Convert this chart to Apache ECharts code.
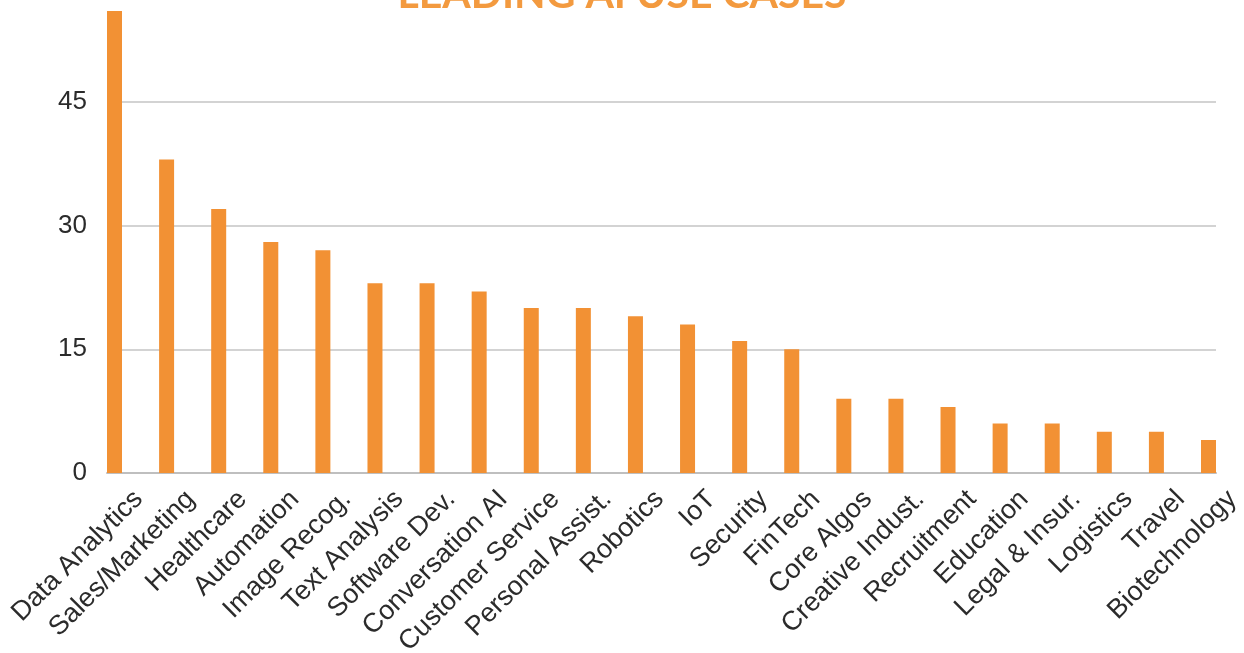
<!DOCTYPE html>
<html>
<head>
<meta charset="utf-8">
<script src="https://cdn.jsdelivr.net/npm/echarts@6/dist/echarts.min.js"></script>
<style>
  html, body { margin: 0; padding: 0; background: #fff; }
  #chart { width: 1244px; height: 653px; }
</style>
</head>
<body>
<div id="chart"></div>
<script>
const categories = ['Data Analytics', 'Sales/Marketing', 'Healthcare', 'Automation', 'Image Recog.',
    'Text Analysis', 'Software Dev.', 'Conversation AI', 'Customer Service', 'Personal Assist.',
    'Robotics', 'IoT', 'Security', 'FinTech', 'Core Algos', 'Creative Indust.', 'Recruitment',
    'Education', 'Legal & Insur.', 'Logistics', 'Travel', 'Biotechnology'];
const useCases = [56, 38, 32, 28, 27, 23, 23, 22, 20, 20, 19, 18, 16, 15, 9, 9, 8, 6, 6, 5, 5, 4];
const yTicks = { min: 0, max: 60, interval: 15 };

const chart = echarts.init(document.querySelector('#chart'), null, {renderer: 'canvas'});
const font = 'Liberation Sans, Arial, sans-serif';

const option = {
    animation: false,
    title: {
        text: 'LEADING AI USE CASES',
        left: 'center',
        top: -31,
        textStyle: { color: '#F39A3F', fontSize: 41, fontWeight: 'bold', fontFamily: 'Lato, sans-serif' }
    },
    grid: [
        // axis frame: y labels, gridlines, x axis line
        { left: 107, right: 28, top: -22, bottom: 180, outerBoundsMode: 'none' },
        // bars
        { left: 114.5, right: 35.5, top: -22, bottom: 180, outerBoundsMode: 'none' },
        // x labels
        { left: 138.5, right: 11.5, top: -22, bottom: 180, outerBoundsMode: 'none' }
    ],
    xAxis: [
        { gridIndex: 0, type: 'category', data: categories, boundaryGap: false,
          axisLine: { lineStyle: { color: '#bfbfbf', width: 2 } },
          axisTick: { show: false }, axisLabel: { show: false } },
        { gridIndex: 1, type: 'category', data: categories, boundaryGap: false, show: false },
        { gridIndex: 2, type: 'category', data: categories, boundaryGap: false,
          axisLine: { show: false }, axisTick: { show: false },
          axisLabel: { interval: 0, rotate: 45, margin: 22, color: '#2b2b2b', fontSize: 27, fontFamily: font } }
    ],
    yAxis: [
        { gridIndex: 0, type: 'value', min: yTicks.min, max: yTicks.max, interval: yTicks.interval,
          axisLine: { show: false }, axisTick: { show: false },
          axisLabel: { margin: 20, color: '#2b2b2b', fontSize: 26, fontFamily: font },
          splitLine: { lineStyle: { color: '#c4c4c4', width: 1.5 } } },
        { gridIndex: 1, type: 'value', min: yTicks.min, max: yTicks.max, interval: yTicks.interval, show: false },
        { gridIndex: 2, type: 'value', min: yTicks.min, max: yTicks.max, show: false }
    ],
    series: [
        {
            type: 'bar',
            name: 'Use cases',
            xAxisIndex: 1,
            yAxisIndex: 1,
            data: useCases,
            barWidth: 15,
            itemStyle: { color: '#F29134' }
        }
    ]
};

chart.setOption(option);
</script>
</body>
</html>
